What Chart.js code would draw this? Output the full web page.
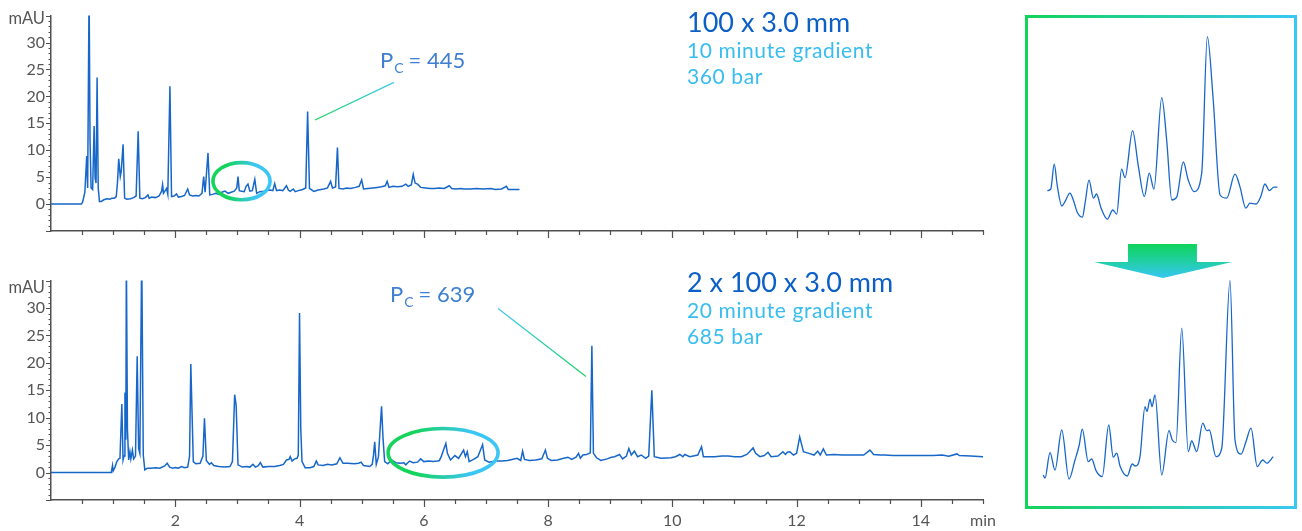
<!DOCTYPE html>
<html><head><meta charset="utf-8">
<script src="https://cdn.jsdelivr.net/npm/chart.js@4/dist/chart.umd.min.js"></script>
<style>
html,body{margin:0;padding:0;background:#fff;width:1302px;height:531px;overflow:hidden;font-family:Lato,"Open Sans",sans-serif;}
.abs{position:absolute;}
canvas{display:block}
.title{color:#0b5fc6;font-size:27px;white-space:nowrap;line-height:1}
.sub{color:#38bdf0;font-size:21px;letter-spacing:0.6px;white-space:nowrap;line-height:1}
.pc{color:#3f7fd2;font-size:22px;white-space:nowrap;line-height:1}
.pc .s{font-size:14px;position:relative;top:5px;margin-left:1px;margin-right:5px}
.unit{color:#555;font-size:16.5px;line-height:1;text-align:right;width:45px}
#box{left:1025px;top:15px;width:272px;height:494px;box-sizing:border-box;border:3px solid #22cf9a;border-image:linear-gradient(90deg,#13d35b,#38c8f4) 1;}
#arrow{left:1094px;top:244px;width:138px;height:34px;background:linear-gradient(180deg,#0fd35a 0%,#22cfa6 52%,#36c6f4 100%);clip-path:polygon(24.6% 0,74.6% 0,74.6% 53%,100% 53%,50% 100%,0 53%,24.6% 53%);}
</style></head><body>
<div class="abs" style="left:0;top:0"><canvas id="cTop" width="1010" height="250"></canvas></div>
<div class="abs" style="left:0;top:265px"><canvas id="cBot" width="1010" height="266"></canvas></div>
<div class="abs" id="box"></div>
<div class="abs" id="arrow"></div>
<div class="abs" style="left:1040px;top:30px"><canvas id="iTop" width="245" height="200"></canvas></div>
<div class="abs" style="left:1035px;top:270px"><canvas id="iBot" width="250" height="220"></canvas></div>

<div class="abs unit" style="left:0;top:10px">mAU</div>
<div class="abs unit" style="left:0;top:279px">mAU</div>
<div class="abs title" style="left:687px;top:8px">100 x 3.0 mm</div>
<div class="abs sub" style="left:687px;top:39px">10 minute gradient</div>
<div class="abs sub" style="left:687px;top:65px">360 bar</div>
<div class="abs pc" style="left:380px;top:49px">P<span class="s">C</span>= 445</div>
<div class="abs title" style="left:687px;top:268px">2 x 100 x 3.0 mm</div>
<div class="abs sub" style="left:687px;top:299px">20 minute gradient</div>
<div class="abs sub" style="left:687px;top:325px">685 bar</div>
<div class="abs pc" style="left:390px;top:283px">P<span class="s">C</span>= 639</div>

<script>
// ---- data: [time (min), signal (mAU)] ----
const topTrace = [[0,0],[0.49,0],[0.51,0.4],[0.545,2.2],[0.575,8.9],[0.59,3],[0.613,40],[0.628,12],[0.645,3],[0.67,2.7],[0.694,14.5],[0.71,4.8],[0.725,3.9],[0.742,23.5],[0.76,3],[0.78,0.5],[0.81,0.5],[0.85,0.8],[0.9,1],[0.95,0.9],[0.98,1.1],[1.02,1.1],[1.05,1.4],[1.07,4],[1.09,8.4],[1.115,5.1],[1.13,6],[1.16,11.1],[1.185,1.1],[1.22,0.9],[1.28,1.0],[1.33,1.2],[1.37,1.5],[1.403,13.5],[1.43,1.1],[1.47,1.0],[1.52,1.2],[1.56,1.7],[1.58,1.1],[1.62,1.3],[1.68,1.2],[1.74,1.5],[1.78,2.4],[1.796,3.6],[1.81,2],[1.86,2.9],[1.88,1.8],[1.914,21.9],[1.94,1.4],[1.98,1.5],[2.02,1.9],[2.05,1.3],[2.1,1.4],[2.15,1.6],[2.2,2.8],[2.23,1.7],[2.28,1.5],[2.33,1.6],[2.38,1.5],[2.43,2],[2.457,5.1],[2.48,2.2],[2.527,9.5],[2.555,1.7],[2.6,1.8],[2.65,2],[2.7,1.8],[2.75,2.2],[2.8,2.4],[2.85,2.0],[2.9,2.2],[2.95,2.4],[2.99,3],[3.01,5.1],[3.03,2.5],[3.07,2.4],[3.11,2.3],[3.14,3.3],[3.17,3.7],[3.2,2.4],[3.24,2.5],[3.28,4.6],[3.31,2],[3.36,2.3],[3.42,2.4],[3.47,2.5],[3.53,2.6],[3.57,2.5],[3.6,3.8],[3.63,2.5],[3.68,2.6],[3.73,2.5],[3.79,3.4],[3.82,2.6],[3.85,2.35],[3.9,2.8],[3.93,2.3],[3.98,2.5],[4.05,2.7],[4.1,3],[4.13,17.2],[4.16,2.9],[4.23,2.35],[4.3,2.6],[4.39,2.8],[4.45,3.0],[4.5,4.2],[4.53,3.0],[4.58,3.2],[4.61,10.5],[4.635,2.9],[4.7,2.8],[4.76,3.0],[4.82,2.9],[4.9,3.1],[4.96,3.3],[5.0,4.5],[5.03,2.8],[5.1,2.9],[5.18,3.0],[5.25,3.1],[5.32,3.2],[5.38,3.4],[5.41,4.2],[5.44,3.1],[5.5,3.3],[5.58,3.2],[5.65,3.3],[5.71,3.7],[5.75,3.3],[5.8,3.6],[5.83,5.5],[5.86,3.9],[5.9,3.7],[5.95,3.1],[6.03,3.0],[6.1,2.9],[6.17,2.9],[6.25,3.0],[6.33,2.9],[6.41,3.4],[6.45,2.9],[6.52,2.8],[6.6,2.9],[6.65,2.8],[6.75,2.8],[6.85,2.9],[6.95,2.8],[7.08,2.9],[7.15,2.7],[7.25,2.8],[7.33,3.3],[7.36,2.7],[7.45,2.7],[7.54,2.7]];

const bottomTrace = [[0,0],[0.97,0],[0.99,1.3],[1.0,0.3],[1.03,1.0],[1.06,2],[1.09,2.5],[1.11,2.6],[1.14,12.5],[1.16,2.3],[1.175,3],[1.19,14.6],[1.205,6],[1.213,40],[1.23,8],[1.25,2.3],[1.27,3.8],[1.285,2.5],[1.31,4.1],[1.33,2.5],[1.36,3],[1.387,21.2],[1.41,4.4],[1.43,3.5],[1.46,40],[1.485,3.2],[1.51,0.5],[1.55,0.8],[1.6,0.8],[1.69,0.9],[1.75,0.8],[1.83,1.2],[1.87,1.7],[1.91,1.0],[1.96,0.8],[2.0,0.9],[2.05,0.8],[2.1,1.1],[2.15,0.9],[2.2,1.0],[2.23,3],[2.25,19.8],[2.27,11],[2.29,2],[2.33,1.6],[2.4,1.7],[2.445,3],[2.47,9.9],[2.5,2.2],[2.55,1.5],[2.58,1.8],[2.62,1.3],[2.7,1.1],[2.8,1.0],[2.88,1.1],[2.92,2],[2.956,14.2],[2.98,12.2],[3.01,1.4],[3.08,1.0],[3.15,1.1],[3.2,1.0],[3.25,1.5],[3.29,1.0],[3.33,1.2],[3.37,1.8],[3.41,1.0],[3.5,1.1],[3.6,1.1],[3.68,1.3],[3.74,1.5],[3.79,2.3],[3.83,2.4],[3.85,2.9],[3.88,2.1],[3.92,2.5],[3.96,2.6],[3.98,3.2],[4.0,29.1],[4.02,8],[4.04,2],[4.09,0.9],[4.17,0.9],[4.23,1.1],[4.27,2.1],[4.3,1.4],[4.38,1.3],[4.45,1.5],[4.52,1.4],[4.6,1.6],[4.65,2.7],[4.7,1.7],[4.78,1.7],[4.88,1.6],[4.95,1.7],[4.99,1.9],[5.03,1.3],[5.13,1.1],[5.17,1.5],[5.19,3.1],[5.21,5.6],[5.235,1.5],[5.27,2.9],[5.32,12.1],[5.345,6],[5.37,2],[5.42,1.6],[5.48,2.3],[5.55,1.8],[5.62,1.7],[5.68,1.8],[5.71,1.4],[5.77,2.1],[5.83,1.8],[5.9,1.9],[5.95,2.5],[6.0,2.0],[6.08,2.1],[6.15,2.0],[6.22,2.1],[6.25,2.2],[6.28,2.9],[6.31,3.9],[6.355,5.3],[6.38,3.5],[6.43,2.3],[6.5,3.1],[6.56,2.6],[6.64,4.1],[6.67,2.9],[6.7,3.8],[6.73,2.0],[6.8,2.4],[6.87,2.9],[6.946,5.1],[6.98,2.3],[7.05,1.9],[7.15,2.1],[7.25,2.1],[7.35,2.2],[7.42,2.4],[7.5,2.6],[7.56,2.2],[7.59,3.9],[7.62,2.4],[7.7,2.2],[7.8,2.3],[7.9,2.5],[7.957,4.1],[7.99,2.6],[8.05,2.2],[8.15,2.3],[8.25,2.6],[8.32,2.8],[8.38,2.4],[8.45,2.8],[8.49,3.5],[8.52,2.6],[8.56,3.2],[8.62,3.3],[8.68,3.6],[8.705,23.1],[8.73,3.5],[8.78,2.7],[8.85,2.2],[8.95,2.5],[9.02,2.8],[9.07,2.9],[9.15,3.3],[9.2,2.5],[9.26,3],[9.3,4.4],[9.34,3.2],[9.39,3.9],[9.44,2.9],[9.5,3.2],[9.57,2.6],[9.62,3.0],[9.67,15],[9.71,2.9],[9.82,2.6],[9.98,2.7],[10.05,2.9],[10.12,3.3],[10.17,2.9],[10.2,3.3],[10.28,2.9],[10.41,3.2],[10.47,4.7],[10.5,2.9],[10.68,2.9],[10.8,3.0],[10.9,3.0],[11.0,2.9],[11.11,2.9],[11.2,3.3],[11.25,3.9],[11.3,4.5],[11.34,3.5],[11.41,2.9],[11.48,3.1],[11.54,3.7],[11.59,2.9],[11.7,3.0],[11.78,3.8],[11.82,3.3],[11.85,3.7],[11.89,3.8],[11.95,3.2],[12.0,3.5],[12.05,6.5],[12.11,3.8],[12.2,3.5],[12.28,3.2],[12.34,3.9],[12.38,3.2],[12.43,4.3],[12.48,3.2],[12.6,3.3],[12.73,3.2],[12.85,3.2],[12.94,3.2],[13.08,3.2],[13.18,4.1],[13.24,3.3],[13.35,3.2],[13.42,3.2],[13.55,3.1],[13.7,3.1],[13.8,3.1],[14.0,3.1],[14.2,3.1],[14.34,3.2],[14.45,3.0],[14.58,3.4],[14.62,3.1],[14.8,3.0],[15.0,2.9]];

// zoomed views of circled regions: [relative time, relative signal]
const insetTop = [[3.0,19.7],[4.4,20.5],[5.8,32.9],[7.1,21.7],[8.9,12],[10.2,14.2],[12.2,18.4],[13.6,15],[15.2,8.9],[17.3,6.4],[18.4,13.4],[20.0,24.9],[21.8,15.9],[23.1,18],[24.8,11.4],[27.5,5.4],[29.7,10],[31.3,8],[33.3,30.4],[34.7,26.2],[37.8,49.7],[40.1,32.2],[42.6,16.7],[44.6,28.4],[46.5,20.4],[49.7,66.2],[51.7,45],[53.8,15],[55.8,16.4],[58.5,34],[60.5,25],[62.9,19.2],[66.0,28.4],[68.3,96.7],[70.7,65],[73.5,17.5],[76.2,15.9],[79.6,27.9],[81.6,21.7],[84.0,10.9],[85.7,13.4],[88.2,13],[90.1,16.7],[91.8,23],[93.6,19.7],[95.5,21.4],[96.9,21.4]];
const insetBottom = [[3.3,7.5],[4.0,5.9],[6.0,18.7],[8.0,10],[10.7,30],[13.6,5.5],[16.0,15],[17.7,22.5],[18.9,30.4],[21.3,14.2],[22.7,15.5],[24.4,9.7],[26.9,6.7],[29.5,32.5],[31.3,16.4],[32.7,18.4],[34.0,12],[36.9,7],[38.9,13],[40.1,12],[42.0,16.7],[44.0,41.7],[44.8,39.2],[46.0,45.4],[46.8,41.7],[48.0,47.5],[50.7,7.5],[53.6,29.7],[54.9,25],[56.4,23.7],[58.7,80.9],[61.3,19.2],[62.7,24.5],[64.7,19.2],[67.1,33.4],[68.7,29.7],[69.7,30],[72.4,16.7],[74.7,20.9],[78.0,104.7],[80.0,25],[82.4,17.9],[84.4,24.2],[86.4,30.9],[88.9,11.7],[91.1,15],[92.7,13.4],[95.3,16.7]];

// annotation anchors in data units
const topEllipse = {t:3.066, v:4.24, dt:0.46, dv:3.45};
const bottomEllipse = {t:6.31, v:3.6, dt:0.885, dv:4.43};
const topLeader = {from:[4.25,15.6], to:[5.52,22.6]};
const bottomLeader = {from:[8.61,17.5], to:[7.195,29.9]};

const AXIS = '#505050';
const LINE = '#1767c9';
const GREEN = '#14d45c', CYAN = '#3cc6f4';

const tickMarks = {
  id:'tickMarks',
  afterDraw(chart){
    const {ctx, chartArea:a} = chart; const x = chart.scales.x, y = chart.scales.y;
    ctx.save(); ctx.strokeStyle = AXIS; ctx.lineWidth = 1.2; ctx.beginPath();
    for (let v = y.min; v <= y.max; v += 1) {
      const py = Math.round(y.getPixelForValue(v)) + 0.5;
      const len = (Math.round(v) % 5 === 0) ? 5 : 2.5;
      ctx.moveTo(a.left - len, py); ctx.lineTo(a.left, py);
    }
    for (let v = 0.5; v <= x.max + 1e-9; v += 0.5) {
      const px = Math.round(x.getPixelForValue(v)) + 0.5;
      const len = (Math.abs(v % 2) < 1e-9) ? 7 : 4;
      ctx.moveTo(px, a.bottom); ctx.lineTo(px, a.bottom + len);
    }
    ctx.stroke(); ctx.restore();
  }
};

const annot = {
  id:'annot',
  afterDatasetsDraw(chart, args, opts){
    const {ctx} = chart; const x = chart.scales.x, y = chart.scales.y;
    ctx.save();
    if (opts.ellipse) {
      const e = opts.ellipse;
      const cx = x.getPixelForValue(e.t), cy = y.getPixelForValue(e.v);
      const rx = x.getPixelForValue(e.t + e.dt) - cx, ry = cy - y.getPixelForValue(e.v + e.dv);
      const g = ctx.createLinearGradient(cx - rx, 0, cx + rx, 0);
      g.addColorStop(0, GREEN); g.addColorStop(0.25, GREEN); g.addColorStop(0.75, CYAN); g.addColorStop(1, CYAN);
      ctx.strokeStyle = g; ctx.lineWidth = 3.6;
      ctx.beginPath(); ctx.ellipse(cx, cy, rx, ry, 0, 0, Math.PI * 2); ctx.stroke();
    }
    if (opts.leader) {
      const l = opts.leader;
      const x1 = x.getPixelForValue(l.from[0]), y1 = y.getPixelForValue(l.from[1]);
      const x2 = x.getPixelForValue(l.to[0]), y2 = y.getPixelForValue(l.to[1]);
      const g = ctx.createLinearGradient(x1, y1, x2, y2);
      g.addColorStop(0, GREEN); g.addColorStop(1, CYAN);
      ctx.strokeStyle = g; ctx.lineWidth = 1.2;
      ctx.beginPath(); ctx.moveTo(x1, y1); ctx.lineTo(x2, y2); ctx.stroke();
    }
    ctx.restore();
  }
};

Chart.defaults.font.family = 'Lato, "Open Sans", sans-serif';
Chart.defaults.color = '#555';

function mainChart(id, trace, opts) {
  return new Chart(document.getElementById(id), {
    type:'line',
    data:{datasets:[{data: trace.map(p => ({x:p[0], y:p[1]})), borderColor:LINE, borderWidth:1.5, pointRadius:0, tension:0, fill:false}]},
    options:{
      responsive:false, animation:false,
      layout:{padding:{top:opts.padTop, right:27, left:0, bottom:0}},
      plugins:{legend:{display:false}, tooltip:{enabled:false}, annot:{ellipse:opts.ellipse, leader:opts.leader}},
      scales:{
        x:{type:'linear', min:0, max:15,
           afterFit(s){ s.height = opts.xH; },
           grid:{display:false, drawTicks:false},
           border:{display:true, color:AXIS, width:1.5},
           ticks:{display:opts.xLabels, stepSize:1, autoSkip:false, maxRotation:0, padding:11, font:{size:16}, color:'#555',
             callback(v){ if (v === 15) return 'min'; return (v > 0 && v % 2 === 0) ? String(v) : ''; }}
        },
        y:{min:-5, max:35,
           afterFit(s){ s.width = 51; },
           grid:{display:false, drawTicks:false},
           border:{display:true, color:AXIS, width:1.5},
           ticks:{stepSize:5, autoSkip:false, padding:6, font:{size:16}, color:'#555',
             callback(v){ return (v < 0 || v > 30) ? '' : String(v); }}
        }
      }
    },
    plugins:[tickMarks, annot]
  });
}

mainChart('cTop', topTrace, {padTop:10, xH:19, xLabels:false, ellipse:topEllipse, leader:topLeader});
mainChart('cBot', bottomTrace, {padTop:14, xH:31, xLabels:true, ellipse:bottomEllipse, leader:bottomLeader});

function insetChart(id, trace, ymax) {
  return new Chart(document.getElementById(id), {
    type:'line',
    data:{datasets:[{data: trace.map(p => ({x:p[0], y:p[1]})), borderColor:LINE, borderWidth:1.3, pointRadius:0, cubicInterpolationMode:'monotone', fill:false}]},
    options:{
      responsive:false, animation:false,
      layout:{padding:0},
      plugins:{legend:{display:false}, tooltip:{enabled:false}},
      scales:{x:{type:'linear', min:0, max:100, display:false}, y:{min:0, max:ymax, display:false}}
    }
  });
}
insetChart('iTop', insetTop, 100);
insetChart('iBot', insetBottom, 110);
</script>
</body></html>
